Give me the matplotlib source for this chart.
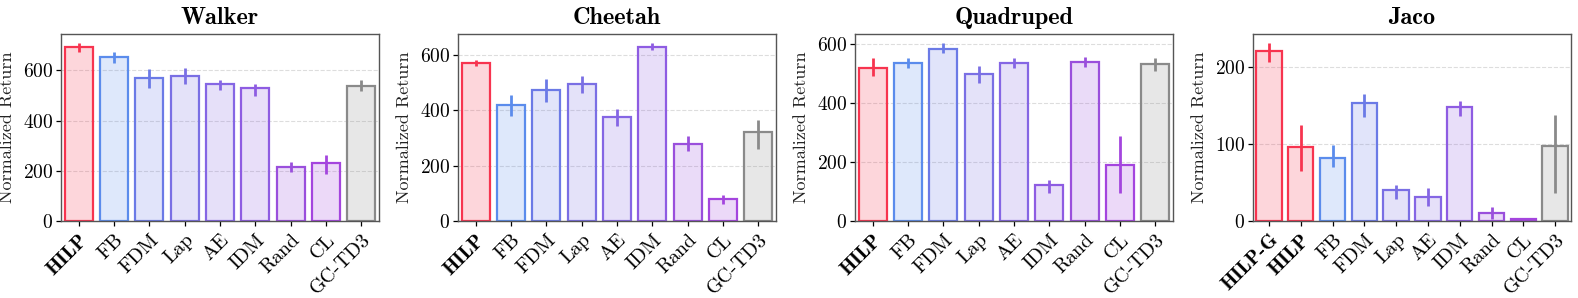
import numpy as np
import matplotlib
matplotlib.use("Agg")
import matplotlib.pyplot as plt
from matplotlib.ticker import MultipleLocator

plt.rcParams['font.family'] = 'cmr10'
plt.rcParams['mathtext.fontset'] = 'cm'
plt.rcParams['axes.formatter.use_mathtext'] = True

# --- data ---
methods = ['HILP', 'FB', 'FDM', 'Lap', 'AE', 'IDM', 'Rand', 'CL', 'GC-TD3']
methods_jaco = ['HILP-G', 'HILP', 'FB', 'FDM', 'Lap', 'AE', 'IDM', 'Rand', 'CL', 'GC-TD3']

walker_mean = [692, 653, 571, 579, 546, 530, 216, 231, 540]
walker_lo = [20, 22, 39, 31, 22, 31, 20, 45, 22]
walker_hi = [18, 21, 34, 29, 18, 18, 18, 34, 23]

cheetah_mean = [572, 419, 473, 494, 376, 630, 278, 79, 320]
cheetah_lo = [13, 40, 42, 32, 34, 13, 25, 18, 61]
cheetah_hi = [11, 35, 39, 30, 27, 13, 30, 16, 44]

quad_mean = [521, 537, 585, 498, 537, 122, 541, 191, 533]
quad_lo = [27, 18, 15, 30, 18, 27, 18, 95, 23]
quad_hi = [33, 17, 20, 30, 16, 16, 15, 97, 20]

jaco_mean = [220, 96, 82, 153, 40, 31, 148, 11, 2, 97]
jaco_lo = [14, 31, 12, 18, 11, 12, 12, 8, 1, 61]
jaco_hi = [11, 29, 16, 12, 7, 12, 8, 7, 1, 41]

titles = ['Walker', 'Cheetah', 'Quadruped', 'Jaco']

# edge colours per method
colors = {
    'HILP-G': '#f7344f', 'HILP': '#f7344f', 'FB': '#5b8cec', 'FDM': '#6b7ae6',
    'Lap': '#7a6fe4', 'AE': '#8566e4', 'IDM': '#8e5ce2', 'Rand': '#9a4fdc',
    'CL': '#a445de', 'GC-TD3': '#8a8a8a',
}
bold = ['HILP', 'HILP-G']

fig = plt.figure(figsize=(15.78, 2.98), dpi=100)
W, H = 1578, 298
lefts = [61, 458, 855, 1253]

panels = [
    (methods, walker_mean, walker_lo, walker_hi, 200),
    (methods, cheetah_mean, cheetah_lo, cheetah_hi, 200),
    (methods, quad_mean, quad_lo, quad_hi, 200),
    (methods_jaco, jaco_mean, jaco_lo, jaco_hi, 100),
]

for i, (names, mean, lo, hi, step) in enumerate(panels):
    ax = fig.add_axes([lefts[i] / W, (H - 221) / H, 318 / W, 187 / H])
    x = np.arange(len(names))
    for j, name in enumerate(names):
        c = colors[name]
        fill = matplotlib.colors.to_rgba(c, 0.2)
        ax.bar(x[j], mean[j], width=0.8, color=fill, edgecolor=c, linewidth=1.6, zorder=2)
        ax.errorbar(x[j], mean[j], yerr=[[lo[j]], [hi[j]]], fmt='none',
                    ecolor=c, elinewidth=2.0, capsize=0, zorder=3)
    ax.set_xlim(-0.5, len(names) - 0.5)
    top = max(m + h for m, h in zip(mean, hi))
    ax.set_ylim(0, top * 1.05)
    ax.yaxis.set_major_locator(MultipleLocator(step))
    ax.set_xticks(x)
    ax.set_xticklabels(names, rotation=45, ha='right', rotation_mode='anchor', fontsize=14.5)
    for lab in ax.get_xticklabels():
        if lab.get_text() in bold:
            lab.set_fontfamily('cmb10')
    ax.tick_params(axis='y', labelsize=14, pad=2)
    ax.tick_params(length=3.5, width=0.9)
    ax.grid(axis='y', linestyle='--', color='#dddddd', linewidth=0.8, zorder=0)
    ax.set_axisbelow(True)
    for s in ax.spines.values():
        s.set_color('#555555')
        s.set_linewidth(1.0)
    ax.set_ylabel('Normalized Return', fontsize=13, color='#222222')
    ax.yaxis.set_label_coords(-46 / 318, 0.5)
    ax.set_title(titles[i], fontfamily='cmb10', fontsize=17.5, pad=7)

fig.savefig('out.png', dpi=100)
